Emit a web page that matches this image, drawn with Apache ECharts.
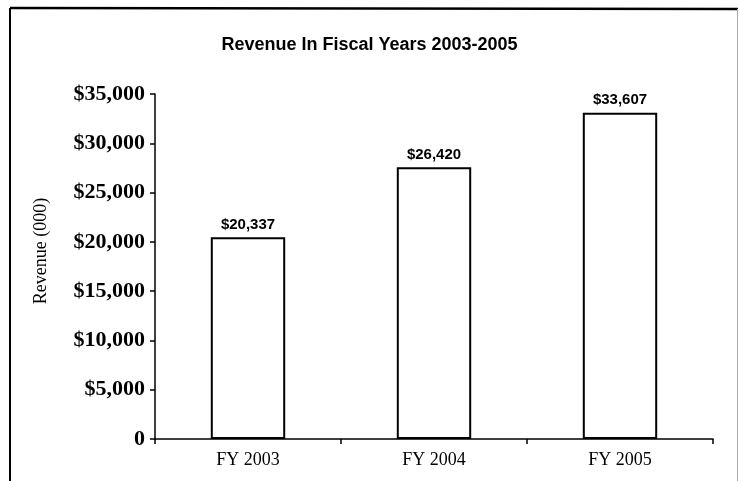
<!DOCTYPE html>
<html>
<head>
<meta charset="utf-8">
<script src="https://cdn.jsdelivr.net/npm/echarts@6/dist/echarts.min.js"></script>
<style>html,body{margin:0;padding:0;background:#fff;}#main{width:739px;height:481px;}</style>
</head>
<body>
<div id="main"></div>
<script>
var categories = ['FY 2003', 'FY 2004', 'FY 2005'];
var barValues = [20480, 27570, 33100];
var barLabels = ['$20,337', '$26,420', '$33,607'];
var yTickLabels = ['0', '$5,000', '$10,000', '$15,000', '$20,000', '$25,000', '$30,000', '$35,000'];
var titleText = 'Revenue In Fiscal Years 2003-2005';
var yAxisTitle = 'Revenue (000)';

var chart = echarts.init(document.getElementById('main'), null, {renderer: 'canvas'});
chart.setOption({
  animation: false,
  backgroundColor: '#fff',
  title: {
    text: titleText,
    left: 'center',
    top: 31,
    textStyle: {fontFamily: 'Liberation Sans, Arial, sans-serif', fontWeight: 'bold', fontSize: 18, color: '#000'}
  },
  grid: {left: 155, right: 26, top: 94, bottom: 42, containLabel: false},
  xAxis: {
    type: 'category',
    data: categories,
    axisLine: {lineStyle: {color: '#000', width: 1.5}},
    axisTick: {show: true, length: 5, inside: false, lineStyle: {color: '#000', width: 1.5}},
    axisLabel: {margin: 12, fontFamily: 'Liberation Serif, Times New Roman, serif', fontSize: 18, color: '#000'},
    splitLine: {show: false}
  },
  yAxis: {
    type: 'value',
    min: 0, max: 35000, interval: 5000,
    axisLine: {show: true, lineStyle: {color: '#000', width: 1.5}},
    axisTick: {show: true, length: 5, lineStyle: {color: '#000', width: 1.5}},
    splitLine: {show: false},
    axisLabel: {
      margin: 10,
      fontFamily: 'Liberation Serif, Times New Roman, serif', fontWeight: 'bold', fontSize: 22, color: '#000',
      formatter: function (v) { return yTickLabels[Math.round(v / 5000)]; }
    }
  },
  graphic: [
    {type: 'line', shape: {x1: 10, y1: 8, x2: 738, y2: 9}, style: {stroke: '#000', lineWidth: 2.5}, z: 100},
    {type: 'line', shape: {x1: 10, y1: 8, x2: 10, y2: 481}, style: {stroke: '#000', lineWidth: 2}, z: 100},
    {type: 'line', shape: {x1: 737.5, y1: 9, x2: 737.5, y2: 481}, style: {stroke: '#aaa', lineWidth: 1}, z: 100},
    {type: 'text', x: 41, y: 251, rotation: Math.PI / 2,
      style: {text: yAxisTitle, x: 0, y: 0, align: 'center', verticalAlign: 'middle',
        font: '18px "Liberation Serif", "Times New Roman", serif', fill: '#000'},
      z: 100}
  ],
  series: [{
    type: 'bar',
    data: barValues,
    barWidth: '40%',
    itemStyle: {color: '#fff', borderColor: '#000', borderWidth: 2},
    label: {
      show: true, position: 'top', distance: 5,
      fontFamily: 'Liberation Sans, Arial, sans-serif', fontWeight: 'bold', fontSize: 15, color: '#000',
      formatter: function (p) { return barLabels[p.dataIndex]; }
    }
  }]
});
</script>
</body>
</html>
